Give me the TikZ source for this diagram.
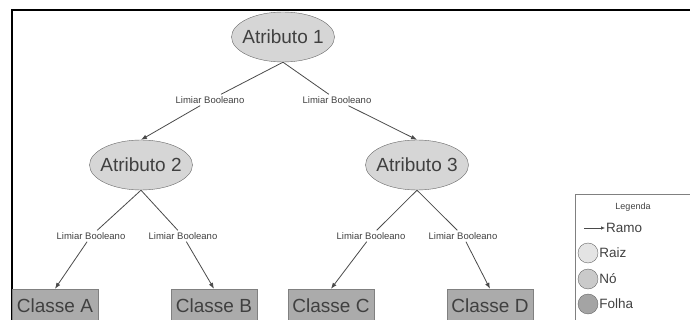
\documentclass[tikz,border=0pt]{standalone}
\usepackage{fontspec}
\setmainfont{Liberation Sans}
\usetikzlibrary{shapes.geometric,arrows.meta}
\definecolor{attrGray}{HTML}{D6D6D6}
\definecolor{leafGray}{HTML}{ABABAB}
\definecolor{textGray}{HTML}{404040}
\definecolor{lineGray}{HTML}{4A4A4A}
\definecolor{raizGray}{HTML}{E4E4E4}
\definecolor{noGray}{HTML}{CACACA}
\definecolor{folhaGray}{HTML}{A4A4A4}
\begin{document}
\begin{tikzpicture}[x=1pt, y=-1pt,
    attr/.style={draw=gray!80!black, fill=attrGray, ellipse, minimum width=103pt, minimum height=50pt, inner xsep=-10pt, inner ysep=0pt, text=textGray, font=\fontsize{19}{22}\selectfont},
    leaf/.style={draw=gray, fill=leafGray, minimum width=86pt, minimum height=34pt, inner sep=0pt, text=textGray, font=\fontsize{19}{22}\selectfont},
    lbl/.style={inner sep=2pt, text=textGray, font=\fontsize{9.5}{11}\selectfont},
    ramo/.style={-{Latex[length=6pt, width=4.5pt]}, draw=lineGray, line width=0.8pt},
    key/.style={draw=gray!80!black, circle, minimum size=20pt, inner sep=0pt},
    keytext/.style={anchor=west, inner sep=1pt, text=textGray, font=\fontsize{13.5}{15}\selectfont}]
    \useasboundingbox (0,0) rectangle (690,320);
    \clip (0,0) rectangle (690,320);
    \draw[line width=1.5pt] (12,330) -- (12,10) -- (700,10);

    \node[attr] at (283, 37) (a1) {Atributo 1};
    \node[attr] at (141, 165) (a2) {Atributo 2};
    \node[attr] at (417, 165) (a3) {Atributo 3};

    \node[leaf] at (55, 306) (ca) {Classe A};
    \node[leaf] at (214, 306) (cb) {Classe B};
    \node[leaf] at (331, 306) (cc) {Classe C};
    \node[leaf] at (490, 306) (cd) {Classe D};

    \node[lbl] at (210, 100) (l1) {Limiar Booleano};
    \node[lbl] at (337, 100) (l2) {Limiar Booleano};
    \node[lbl] at (91, 236) (l3) {Limiar Booleano};
    \node[lbl] at (183, 236) (l4) {Limiar Booleano};
    \node[lbl] at (371, 236) (l5) {Limiar Booleano};
    \node[lbl] at (463, 236) (l6) {Limiar Booleano};

    \draw[ramo] (a1.south) -- (l1) -- (a2.north);
    \draw[ramo] (a1.south) -- (l2) -- (a3.north);
    \draw[ramo] (a2.south) -- (l3) -- (ca.north);
    \draw[ramo] (a2.south) -- (l4) -- (cb.north);
    \draw[ramo] (a3.south) -- (l5) -- (cc.north);
    \draw[ramo] (a3.south) -- (l6) -- (cd.north);

    \draw[draw=gray, line width=0.8pt] (700,194) -- (575,194) -- (575,330);
    \node[text=textGray, font=\fontsize{9}{10}\selectfont] at (633, 207) (leg) {Legenda};
    \coordinate (ramoStart) at (584, 228);
    \node[keytext] at (605, 228) (ramoTxt) {Ramo};
    \draw[ramo, line width=0.6pt, -{Latex[length=4pt, width=3.5pt]}] (ramoStart) -- (ramoTxt.west);
    \node[key, fill=raizGray] at (588, 253) (raiz) {};
    \node[keytext] at (raiz.east) (raizTxt) {Raiz};
    \node[key, fill=noGray] at (588, 279) (no) {};
    \node[keytext] at (no.east) (noTxt) {Nó};
    \node[key, fill=folhaGray] at (588, 304) (folha) {};
    \node[keytext] at (folha.east) (folhaTxt) {Folha};
\end{tikzpicture}
\end{document}
